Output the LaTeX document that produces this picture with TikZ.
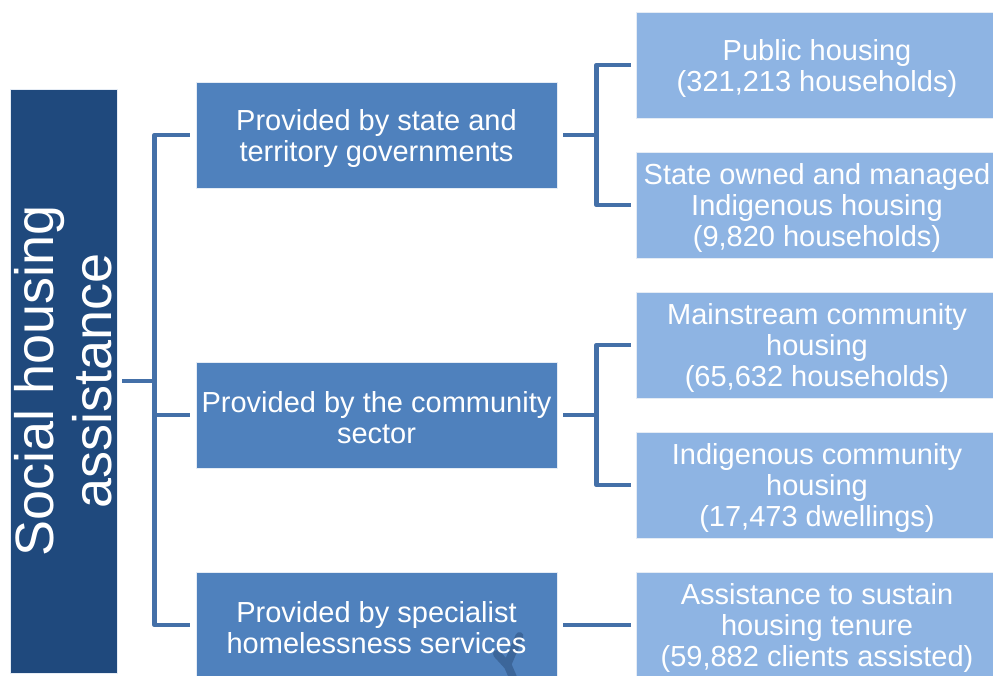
\documentclass[tikz,border=0pt]{standalone}
\usepackage{fontspec}
\setmainfont{Liberation Sans}
\definecolor{rootblue}{HTML}{1F497D}
\definecolor{midblue}{HTML}{4F81BD}
\definecolor{leafblue}{HTML}{8EB4E3}
\definecolor{linkblue}{HTML}{4470A8}
\definecolor{markblue}{HTML}{3C669A}
\tikzset{
  box/.style={rectangle, draw=white!85!midblue, line width=0.8pt, inner sep=0pt},
  boxtext/.style={text=white, align=center, inner sep=0pt, yshift=-3pt,
    font=\fontsize{29}{31}\selectfont},
  rootbox/.style={box, fill=rootblue, minimum width=107pt, minimum height=584pt},
  midbox/.style={box, fill=midblue, minimum width=361pt, minimum height=106pt},
  leafbox/.style={box, fill=leafblue, minimum width=362pt, minimum height=106pt},
  conn/.style={draw=linkblue, line width=4.5pt, line join=round},
  penstroke/.style={draw=markblue, line width=8pt, line cap=round, line join=round},
}
\begin{document}
\begin{tikzpicture}[x=1pt,y=-1pt]
  \useasboundingbox (0,0) rectangle (993,675);
  \clip (0,0) rectangle (993,675);
  \fill[white] (0,0) rectangle (993,675);

  % root
  \node[rootbox, label={[rotate=90, text=white, align=center,
        font=\fontsize{54}{58}\selectfont]center:{Social housing\\assistance}}]
        (root) at (63.5,381) {};

  % providers
  \node[midbox, label={[boxtext]center:{Provided by state and\\territory governments}}]
        (m1) at (376.5,135) {};
  \node[midbox, label={[boxtext]center:{Provided by the community\\sector}}]
        (m2) at (376.5,415) {};
  \node[midbox, path picture={
      \draw[penstroke] ([shift={(120.5,29)}]path picture bounding box.center)
        -- ([shift={(131.5,41)}]path picture bounding box.center)
        -- ([shift={(138,56)}]path picture bounding box.center);
      \draw[penstroke] ([shift={(131,39)}]path picture bounding box.center)
        -- ([shift={(143,11)}]path picture bounding box.center);
    }, label={[boxtext]center:{Provided by specialist\\homelessness services}}]
        (m3) at (376.5,625) {};

  % programs
  \node[leafbox, label={[boxtext]center:{Public housing\\(321,213 households)}}]
        (l1) at (817,65) {};
  \node[leafbox, label={[boxtext]center:{State owned and managed\\Indigenous housing\\(9,820 households)}}]
        (l2) at (817,205) {};
  \node[leafbox, label={[boxtext]center:{Mainstream community\\housing\\(65,632 households)}}]
        (l3) at (817,345) {};
  \node[leafbox, label={[boxtext]center:{Indigenous community\\housing\\(17,473 dwellings)}}]
        (l4) at (817,485) {};
  \node[leafbox, label={[boxtext]center:{Assistance to sustain\\housing tenure\\(59,882 clients assisted)}}]
        (l5) at (817,625) {};

  % root to providers
  \draw[conn] ([xshift=5pt]root.east) -- ([xshift=-41pt]root.east -| m2.west);
  \draw[conn] ([xshift=-6pt]m1.west) -| ([xshift=-41pt]m3.west) -- ([xshift=-6pt]m3.west);
  \draw[conn] ([xshift=-41pt]m2.west) -- ([xshift=-6pt]m2.west);

  % providers to programs
  \draw[conn] ([xshift=6pt]m1.east) -- ([xshift=-39pt]l1.west |- m1.east);
  \draw[conn] ([xshift=-5pt]l1.west) -| ([xshift=-39pt]l2.west) -- ([xshift=-5pt]l2.west);
  \draw[conn] ([xshift=6pt]m2.east) -- ([xshift=-39pt]l3.west |- m2.east);
  \draw[conn] ([xshift=-5pt]l3.west) -| ([xshift=-39pt]l4.west) -- ([xshift=-5pt]l4.west);
  \draw[conn] ([xshift=6pt]m3.east) -- ([xshift=-5pt]l5.west);
\end{tikzpicture}
\end{document}
